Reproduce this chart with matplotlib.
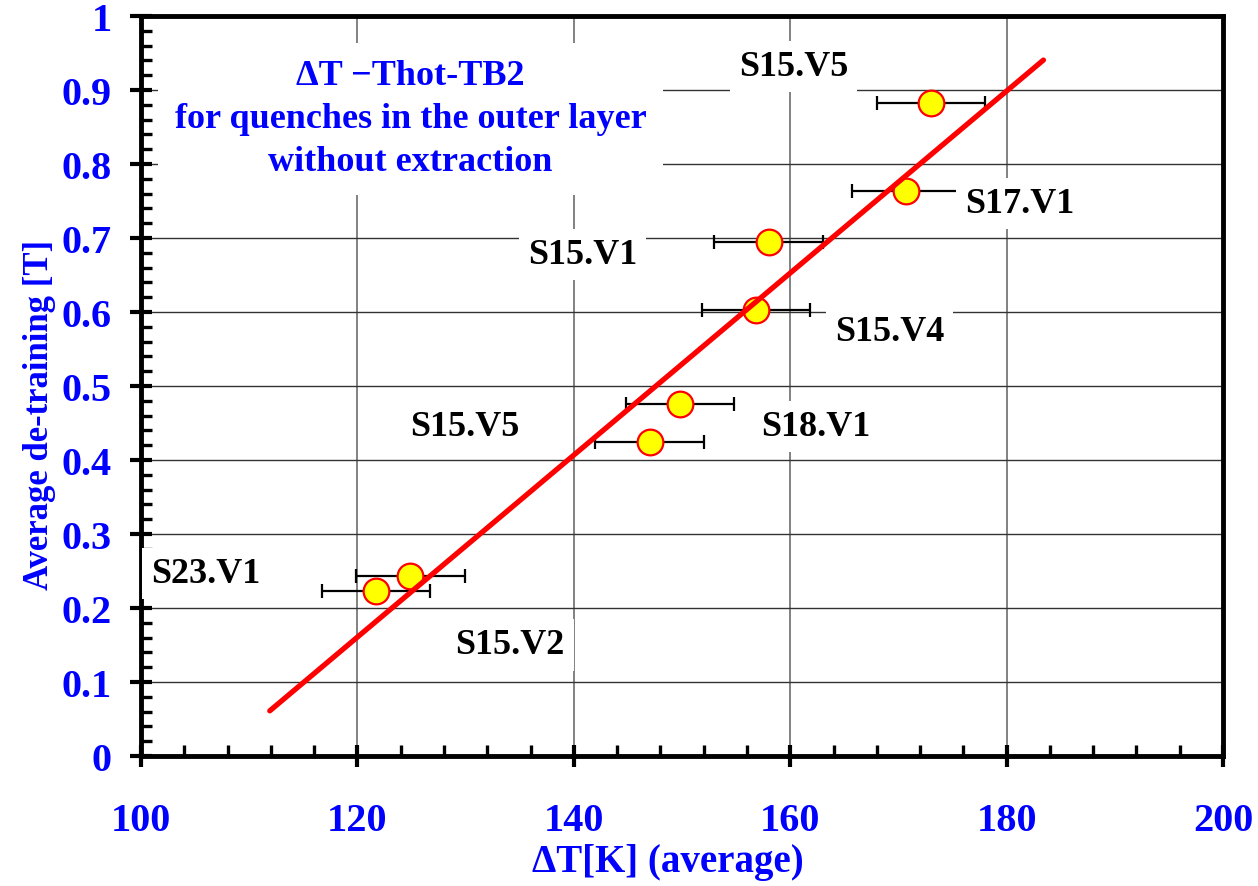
import matplotlib.pyplot as plt
from matplotlib.ticker import MultipleLocator

# data
dT = [173.0, 170.7, 158.0, 156.8, 149.8, 147.0, 124.9, 121.7]
detraining = [0.882, 0.764, 0.695, 0.603, 0.476, 0.424, 0.243, 0.223]
dT_err = [5, 5, 5, 5, 5, 5, 5, 5]

# linear fit end points
fit_x = [111.9, 183.4]
fit_y = [0.061, 0.9405]

# magnet labels (text, x, y)
labels = ['S15.V5', 'S17.V1', 'S15.V1', 'S15.V4', 'S18.V1', 'S15.V5', 'S23.V1', 'S15.V2']
label_x = [160.3, 181.2, 140.8, 169.2, 162.4, 129.9, 106.0, 134.1]
label_y = [0.932, 0.747, 0.678, 0.574, 0.445, 0.445, 0.247, 0.150]

title_lines = ['\u0394T \u2212Thot-TB2', 'for quenches in the outer layer', 'without extraction']

plt.rcParams['font.family'] = ['Liberation Serif', 'DejaVu Serif']
plt.rcParams['font.weight'] = 'bold'
blue = '#0000ff'

fig = plt.figure(figsize=(12.58, 8.87), dpi=100)
ax = fig.add_axes([0.1121, 0.1466, 0.8601, 0.8342])

ax.set_xlim(100, 200)
ax.set_ylim(0, 1)
ax.xaxis.set_major_locator(MultipleLocator(20))
ax.xaxis.set_minor_locator(MultipleLocator(4))
ax.yaxis.set_major_locator(MultipleLocator(0.1))
ax.yaxis.set_minor_locator(MultipleLocator(0.02))
ax.set_yticks([0, 0.1, 0.2, 0.3, 0.4, 0.5, 0.6, 0.7, 0.8, 0.9, 1.0])
ax.set_yticklabels(['0', '0.1', '0.2', '0.3', '0.4', '0.5', '0.6', '0.7', '0.8', '0.9', '1'])

# grid
ax.grid(True, which='major', axis='y', color='#333333', lw=1.0, zorder=0)
ax.grid(True, which='major', axis='x', color='#777777', lw=1.3, zorder=0)
ax.set_axisbelow(True)

for s in ax.spines.values():
    s.set_linewidth(3.5)
    s.set_color('black')

ax.tick_params(which='major', direction='inout', length=16, width=3, color='black',
               labelsize=29, labelcolor=blue, top=False, right=False)
ax.tick_params(which='minor', direction='in', length=8, width=2.4, color='black',
               top=False, right=False)
ax.tick_params(axis='y', which='major', pad=13)
ax.tick_params(axis='x', which='major', pad=25)
for lab in ax.get_xticklabels() + ax.get_yticklabels():
    lab.set_fontweight('bold')

# error bars
ax.errorbar(dT, detraining, xerr=dT_err, fmt='none', ecolor='black', elinewidth=1.6,
            capsize=5, capthick=1.6, zorder=2)

# labels with white boxes hiding the grid
for t, x, y in zip(labels, label_x, label_y):
    ax.text(x, y, t, fontsize=26, fontweight='bold', color='black', ha='center', va='center',
            bbox=dict(boxstyle='square,pad=0.25', fc='white', ec='none'), zorder=3)

ax.text(124.9, 0.861, '\n'.join(title_lines), fontsize=26, fontweight='bold', color=blue,
        ha='center', va='center', linespacing=1.4,
        bbox=dict(boxstyle='square,pad=0.45', fc='white', ec='none'), zorder=3)

# points
ax.plot(dT, detraining, 'o', ms=18.5, mfc='#ffff00', mec='#ff0000', mew=1.6, zorder=4)

# fit line
ax.plot(fit_x, fit_y, color='#ff0000', lw=3.8, solid_capstyle='round', zorder=5)

ax.set_xlabel('\u0394T[K] (average)', fontsize=28, fontweight='bold', color=blue)
ax.set_ylabel('Average de-training [T]', fontsize=25, fontweight='bold', color=blue)
ax.xaxis.set_label_coords(0.487, -0.118)
ax.yaxis.set_label_coords(-0.079, 0.462)

fig.savefig('out.png', dpi=100)
